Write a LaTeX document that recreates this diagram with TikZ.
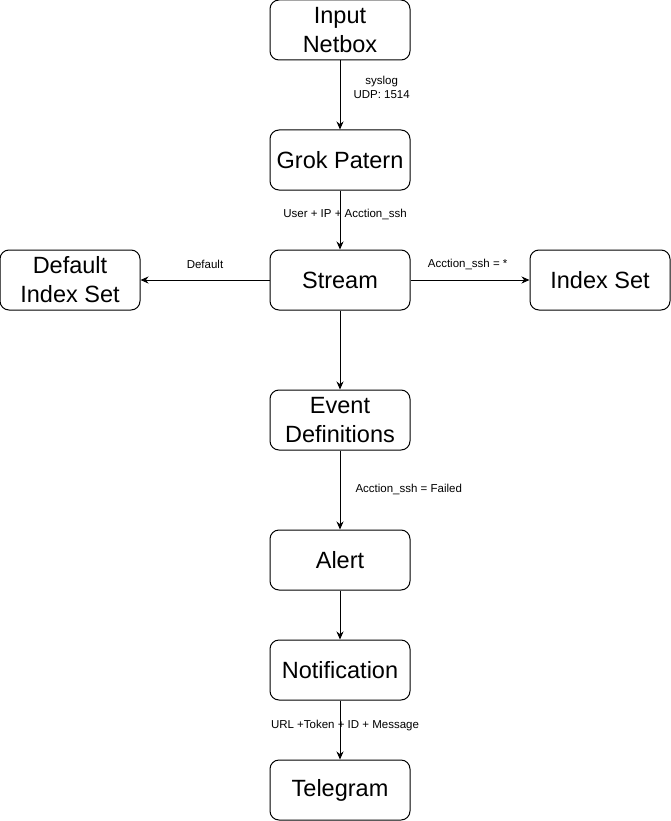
\documentclass[tikz,border=0pt]{standalone}
\usepackage{fontspec}
\setmainfont{Liberation Sans}
\usepackage{tikz}
\usetikzlibrary{arrows.meta, positioning}

\begin{document}
\begin{tikzpicture}[x=1pt,y=-1pt]
        \useasboundingbox (0,0) rectangle (671,821);
        \begin{scope}[every node/.style={draw,line width=1pt,rounded corners=9pt,minimum width=140pt,minimum height=60pt,inner sep=0pt,align=center,font=\fontsize{23.5}{29}\selectfont}]
          \node (inp) at (340,30) {Input\\Netbox};
          \node (grok) at (340,160) {Grok Patern};
          \node (stream) at (340,280) {Stream};
          \node (defidx) at (70,280) {Default\\Index Set};
          \node (idx) at (600,280) {Index Set};
          \node (event) at (340,420) {Event\\Definitions};
          \node (alert) at (340,560) {Alert};
          \node (notif) at (340,670) {Notification};
          \node (tele) at (340,790) {Telegram};
        \end{scope}
        \begin{scope}[every edge/.style={draw=black,line width=1pt,-{Stealth[length=8pt,width=7pt]}},
            every node/.style={inner sep=0pt,align=center,font=\fontsize{11.5}{14.5}\selectfont}]
          \path (inp) edge node[pos=0.39,anchor=west,xshift=13pt] {syslog\\UDP: 1514} (grok);
          \path (grok) edge node[pos=0.4,xshift=5pt] {User + IP + Acction\_ssh} (stream);
          \path (stream) edge node[pos=0.5,yshift=16pt] {Default} (defidx);
          \path (stream) edge node[pos=0.48,yshift=16pt] {Acction\_ssh = *} (idx);
          \path (stream) edge (event);
          \path (event) edge node[pos=0.49,anchor=west,xshift=15pt] {Acction\_ssh = Failed} (alert);
          \path (alert) edge (notif);
          \path (notif) edge node[pos=0.42,xshift=5pt] {URL +Token + ID + Message} (tele);
        \end{scope}
      \end{tikzpicture}
\end{document}
